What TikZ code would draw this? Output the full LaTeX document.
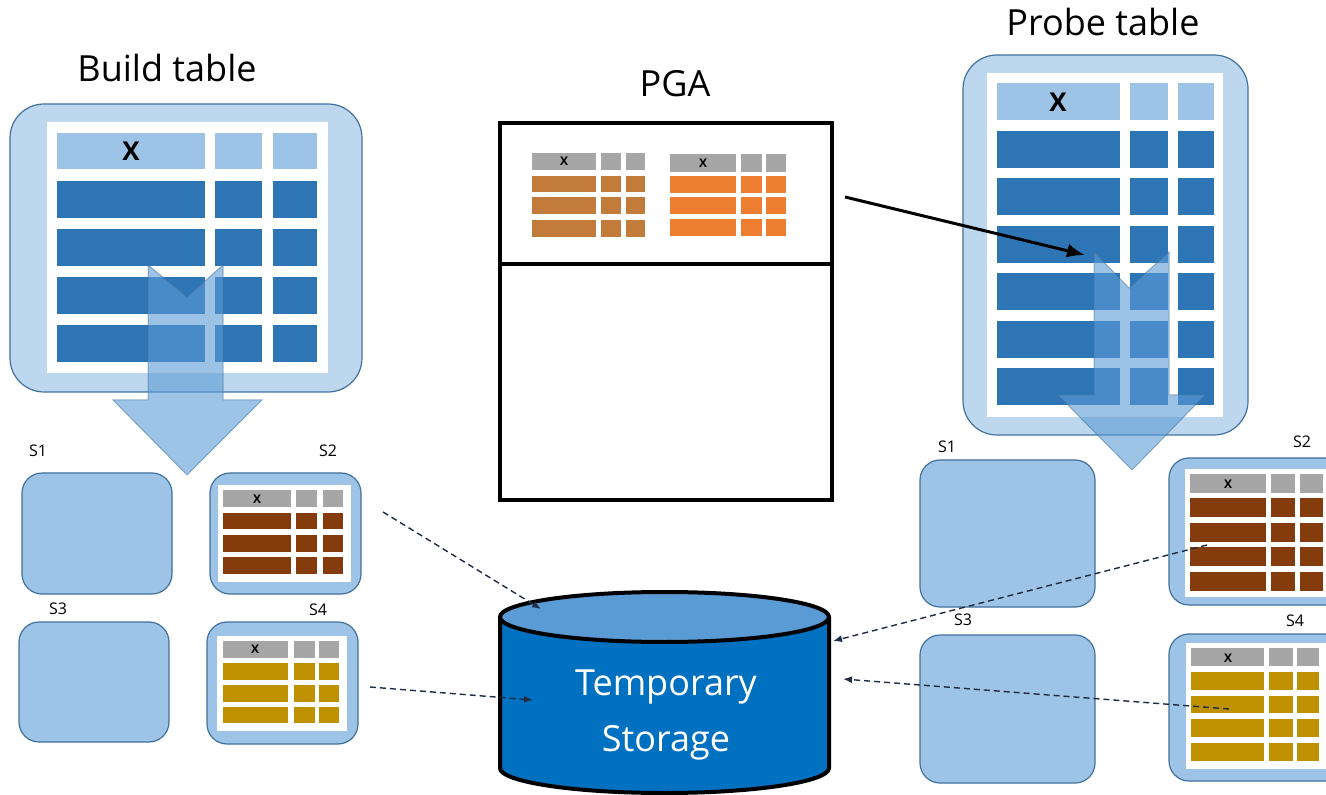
\documentclass[tikz,border=0pt]{standalone}
\usepackage{fontspec}
\setmainfont{Open Sans}
\usetikzlibrary{arrows.meta}
\definecolor{outerblue}{HTML}{BDD7EE}
\definecolor{boxblue}{HTML}{9DC3E6}
\definecolor{edgeblue}{HTML}{41719C}
\definecolor{cellblue}{HTML}{2E75B6}
\definecolor{hdrblue}{HTML}{9DC3E6}
\definecolor{hdrgray}{HTML}{A6A6A6}
\definecolor{mybrown}{HTML}{843C0C}
\definecolor{mygold}{HTML}{BF9000}
\definecolor{pgabrown}{HTML}{C27B3A}
\definecolor{pgaorange}{HTML}{ED7D31}
\definecolor{cylbody}{HTML}{0070C0}
\definecolor{cyltop}{HTML}{5B9BD5}
\definecolor{dashcol}{HTML}{1F2A44}
\definecolor{arrowfill}{HTML}{5B9BD5}
\newcommand\cells[3]{\foreach \xa/\xb in {#1}{\foreach \ya/\yb in {#2}{\fill[#3] (\xa,\ya) rectangle (\xb,\yb);}}}
\tikzset{
  outerbox/.style={fill=outerblue, draw=edgeblue, line width=0.6pt, rounded corners=17pt},
  sbox/.style={fill=boxblue, draw=edgeblue, line width=0.6pt, rounded corners=10pt},
  inner/.style={fill=white},
  title/.style={font=\fontsize{18}{21}\selectfont, anchor=base},
  slabel/.style={font=\fontsize{8}{9}\selectfont},
  bigx/.style={font=\bfseries\fontsize{13}{14}\selectfont},
  smallx/.style={font=\bfseries\fontsize{6}{7}\selectfont},
  blockarrow/.style={fill=arrowfill, fill opacity=0.6, draw=edgeblue, draw opacity=0.5, line width=0.5pt},
  solidarrow/.style={line width=1.5pt, -{Latex[length=9pt,width=7pt]}},
  dasharrow/.style={draw=dashcol, line width=0.7pt, dashed, dash pattern=on 3pt off 2pt, -{Latex[length=4.5pt,width=3.5pt]}},
  cylline/.style={line width=2pt, draw=black}
}
\begin{document}
\begin{tikzpicture}[x=0.5pt,y=-0.5pt]
\useasboundingbox (0,0) rectangle (1326,795);
\clip (0,0) rectangle (1326,795);
% ---------- Build table ----------
\node[title] (buildtitle) at (167,82) {Build table};
\draw[outerbox] (10,104) rectangle (362,392);
\fill[inner] (47,122) rectangle (328,373);
\cells{57/205,215/262,273/317}{133/169}{hdrblue}
\cells{57/205,215/262,273/317}{181/218,229/266,277/314,325/362}{cellblue}
\node[bigx] (buildx) at (131,151) {X};
\draw[blockarrow] (148,265) -- (187,297) -- (223,265) -- (223,400) -- (262,400) -- (187,475) -- (113,400) -- (148,400) -- cycle;
% left small boxes
\node[slabel] (ls1lab) at (38,451) {S1};
\node[slabel] (ls2lab) at (328,451) {S2};
\node[slabel] (ls3lab) at (58,609) {S3};
\node[slabel] (ls4lab) at (318,610) {S4};
\draw[sbox] (22,473) rectangle (172,594);
\draw[sbox] (210,473) rectangle (361,594);
\draw[sbox] (19,622) rectangle (169,742);
\draw[sbox] (207,622) rectangle (358,744);
\fill[inner] (218,485) rectangle (351,582);
\cells{223/291,296/317,323/343}{490/507}{hdrgray}
\cells{223/291,296/317,323/343}{513/529,535/552,557/574}{mybrown}
\node[smallx] (ls2x) at (257,499) {X};
\fill[inner] (217,636) rectangle (347,731);
\cells{223/288,294/315,319/339}{641/658}{hdrgray}
\cells{223/288,294/315,319/339}{663/680,685/702,707/723}{mygold}
\node[smallx] (ls4x) at (255,649) {X};
% ---------- PGA ----------
\node[title] (pgatitle) at (675,97) {PGA};
\draw[line width=2pt] (500,123) rectangle (832,500);
\draw[line width=2pt] (500,264) -- (832,264);
\cells{532/596,601/621,626/645}{153/170}{hdrgray}
\cells{532/596,601/621,626/645}{176/192,197/214,220/237}{pgabrown}
\node[smallx] (pgax1) at (564,161) {X};
\cells{670/736,741/762,766/786}{154/172}{hdrgray}
\cells{670/736,741/762,766/786}{176/193,197/214,219/236}{pgaorange}
\node[smallx] (pgax2) at (703,163) {X};
% ---------- Probe table ----------
\node[title] (probetitle) at (1103,36) {Probe table};
\draw[outerbox] (963,55) rectangle (1248,435);
\fill[inner] (987,73) rectangle (1223,417);
\cells{997/1120,1130/1168,1178/1214}{83/120}{hdrblue}
\cells{997/1120,1130/1168,1178/1214}{131/168,178/215,226/263,273/310,321/358,368/405}{cellblue}
\node[bigx] (probex) at (1058,102) {X};
\draw[blockarrow] (1094,252) -- (1129,288) -- (1169,252) -- (1169,395) -- (1205,395) -- (1132,470) -- (1058,395) -- (1094,395) -- cycle;
% right small boxes
\node[slabel] (rs1lab) at (947,447) {S1};
\node[slabel] (rs2lab) at (1302,442) {S2};
\node[slabel] (rs3lab) at (963,620) {S3};
\node[slabel] (rs4lab) at (1295,621) {S4};
\draw[sbox] (920,460) rectangle (1095,607);
\draw[sbox] (1169,458) rectangle (1350,605);
\draw[sbox] (920,635) rectangle (1095,783);
\draw[sbox] (1169,634) rectangle (1350,781);
\fill[inner] (1185,469) rectangle (1345,597);
\cells{1190/1266,1271/1295,1300/1323}{474/493}{hdrgray}
\cells{1190/1266,1271/1295,1300/1323}{498/517,523/542,547/566,572/591}{mybrown}
\node[smallx] (rs2x) at (1228,484) {X};
\fill[inner] (1186,643) rectangle (1345,769);
\cells{1191/1264,1269/1293,1297/1319}{648/666}{hdrgray}
\cells{1191/1264,1269/1293,1297/1319}{672/690,696/713,719/737,743/761}{mygold}
\node[smallx] (rs4x) at (1228,658) {X};
% ---------- Temporary storage ----------
\fill[cylbody] (500,617) -- (500,768) arc[start angle=180,end angle=0,x radius=164.5,y radius=25] -- (829,617) -- cycle;
\draw[cylline] (500,617) -- (500,768) arc[start angle=180,end angle=0,x radius=164.5,y radius=25] -- (829,617);
\draw[cylline, fill=cyltop] (664.5,617) ellipse [x radius=164.5, y radius=25];
\node[align=center, text=white, font=\fontsize{18}{28}\selectfont] (storage) at (666,715) {Temporary\\Storage};
% ---------- connectors ----------
\coordinate (pgaout) at (845,197);
\coordinate (probein) at (1085,255);
\draw[solidarrow] (pgaout) -- (probein);
\coordinate (ls2src) at (383,512);
\coordinate (cyltopin) at (541,609);
\coordinate (ls4src) at (370,687);
\coordinate (cylleft) at (533,700);
\coordinate (rs2src) at (1207,545);
\coordinate (cylright1) at (833,641);
\coordinate (rs4src) at (1229,709);
\coordinate (cylright2) at (843,679);
\draw[dasharrow] (ls2src) -- (cyltopin);
\draw[dasharrow] (ls4src) -- (cylleft);
\draw[dasharrow] (rs2src) -- (cylright1);
\draw[dasharrow] (rs4src) -- (cylright2);
\end{tikzpicture}
\end{document}
